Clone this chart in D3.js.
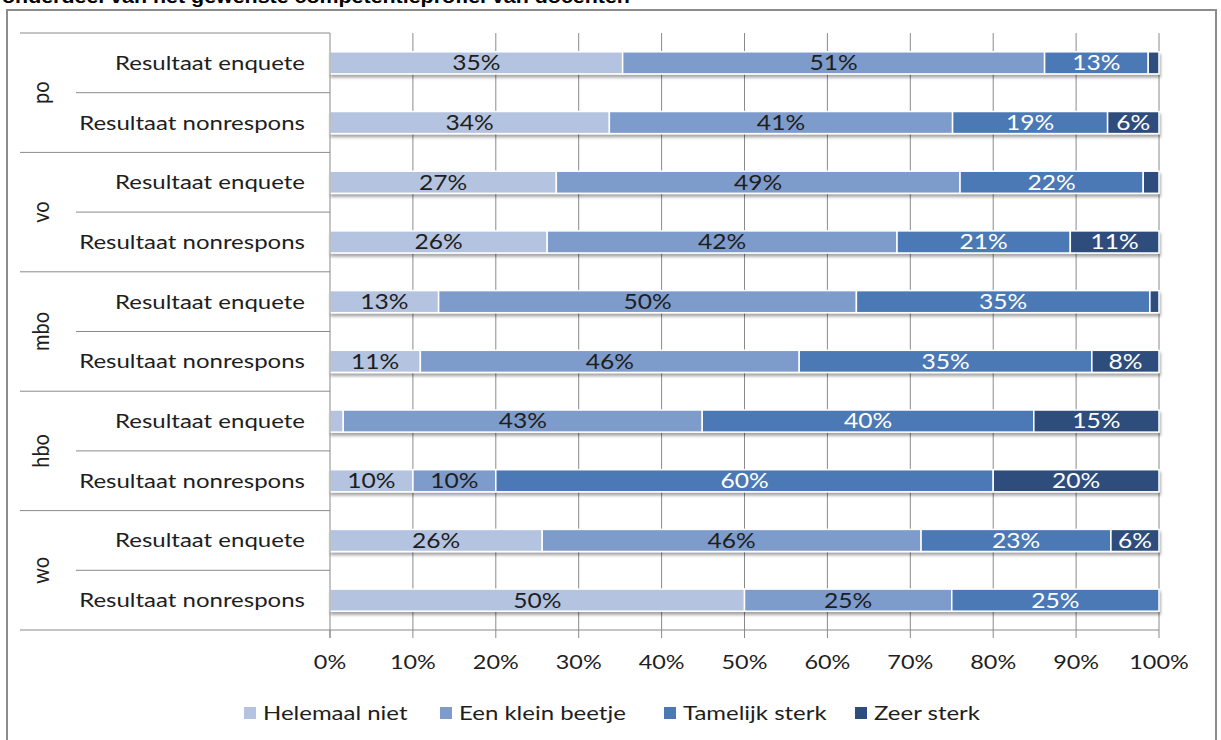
<!DOCTYPE html>
<html><head><meta charset="utf-8">
<script src="https://cdn.jsdelivr.net/npm/d3@7"></script>
<style>
html,body{margin:0;padding:0;background:#fff;}
svg text{font-family:Lato,"Open Sans",sans-serif;}
</style></head>
<body><svg id="c" width="1221" height="740"></svg>
<script>
const title = "onderdeel van het gewenste competentieprofiel van docenten";
const groups = ["po","vo","mbo","hbo","wo"];
const rowTypes = ["Resultaat enquete","Resultaat nonrespons"];
const seriesNames = ["Helemaal niet","Een klein beetje","Tamelijk sterk","Zeer sterk"];
const colors = ["#b4c3df","#7d9bcb","#4b79b5","#2d4e7d"];
const labelColors = ["#1e1e1e","#1e1e1e","#fff","#fff"];
const helemaalNiet  = [35.3, 33.7, 27.3, 26.2, 13.1, 10.9,  1.6, 10, 25.6, 50];
const kleinBeetje   = [50.9, 41.4, 48.7, 42.2, 50.4, 45.7, 43.3, 10, 45.7, 25];
const tamelijkSterk = [12.5, 18.7, 22.1, 20.9, 35.4, 35.3, 40.0, 60, 22.9, 25];
const zeerSterk     = [ 1.3,  6.2,  1.9, 10.7,  1.1,  8.1, 15.1, 20,  5.8,  0];
const tickValues = [0,10,20,30,40,50,60,70,80,90,100];

const series = [helemaalNiet, kleinBeetje, tamelijkSterk, zeerSterk];
const rows = [];
groups.forEach((g,gi)=>rowTypes.forEach((r,ri)=>rows.push({g, r, i: gi*2+ri})));

const SX = 1.2; // horizontal stretch of the reference's text
const svg = d3.select("#c");
const L = 330, R = 1159, T = 33, B = 630;
const x = d3.scaleLinear().domain([0,100]).range([L,R]);
const y = d3.scaleBand().domain(rows.map(d=>d.i)).range([T,B]).paddingInner(0.63).paddingOuter(0.315);
const yRow = d3.scaleBand().domain(rows.map(d=>d.i)).range([T,B]);

// cropped title
svg.append("text").attr("transform","translate(2,3) scale(1.19,1)")
  .style("font-family","'Liberation Sans',Arial,sans-serif")
  .attr("font-weight","bold").attr("font-size",18).attr("fill","#000").text(title);

// frame
svg.append("rect").attr("x",7).attr("y",10).attr("width",1209).attr("height",740)
  .attr("fill","none").attr("stroke","#8c8c8c").attr("stroke-width",2);

// gridlines
svg.append("g").selectAll("line").data(tickValues.slice(1)).join("line")
  .attr("x1",d=>x(d)).attr("x2",d=>x(d)).attr("y1",T).attr("y2",B)
  .attr("stroke","#8a8a8a").attr("stroke-width",1);

// shadow filter
const defs = svg.append("defs");
const f = defs.append("filter").attr("id","sh").attr("x","-5%").attr("y","-20%").attr("width","110%").attr("height","160%");
f.append("feGaussianBlur").attr("in","SourceAlpha").attr("stdDeviation",1.6);
f.append("feOffset").attr("dx",1).attr("dy",3).attr("result","ob");
f.append("feComponentTransfer").append("feFuncA").attr("type","linear").attr("slope",0.35);
const m = f.append("feMerge"); m.append("feMergeNode"); m.append("feMergeNode").attr("in","SourceGraphic");

// stacked bars
const segs = [];
rows.forEach(r=>{
  let acc = 0;
  series.forEach((s,si)=>{
    const v = s[r.i];
    segs.push({row:r.i, si, x0:acc, x1:acc+v, v});
    acc += v;
  });
});
const barG = svg.append("g").attr("filter","url(#sh)");
barG.selectAll("rect").data(segs.filter(d=>d.v>0)).join("rect")
  .attr("x",d=>x(d.x0)).attr("width",d=>x(d.x1)-x(d.x0))
  .attr("y",d=>y(d.row)).attr("height",y.bandwidth())
  .attr("fill",d=>colors[d.si]).attr("stroke","#fff").attr("stroke-width",1.5);

svg.append("g").selectAll("text").data(segs.filter(d=>d.v>=3)).join("text")
  .attr("transform",d=>`translate(${x((d.x0+d.x1)/2)},${y(d.row)+y.bandwidth()/2}) scale(${SX},1)`)
  .attr("dy","0.36em").attr("text-anchor","middle").attr("font-size",20.5)
  .attr("fill",d=>labelColors[d.si]).text(d=>Math.round(d.v)+"%");

// axis line and ticks
svg.append("line").attr("x1",L).attr("x2",L).attr("y1",T).attr("y2",B+8).attr("stroke","#8a8a8a");
svg.append("line").attr("x1",L).attr("x2",R).attr("y1",B).attr("y2",B).attr("stroke","#8a8a8a");
svg.append("g").selectAll("line").data(tickValues).join("line")
  .attr("x1",d=>x(d)).attr("x2",d=>x(d)).attr("y1",B).attr("y2",B+8).attr("stroke","#8a8a8a");
svg.append("g").selectAll("text").data(tickValues).join("text")
  .attr("transform",d=>`translate(${x(d)},662) scale(${SX},1)`)
  .attr("dy","0.35em").attr("text-anchor","middle")
  .attr("font-size",19.5).attr("fill","#1e1e1e").text(d=>d+"%");

// category separators
const sepG = svg.append("g");
rows.forEach(r=>{
  const yt = yRow(r.i);
  sepG.append("line").attr("x1", r.i%2===0 ? 20 : 76).attr("x2",L).attr("y1",yt).attr("y2",yt).attr("stroke","#8a8a8a");
});
sepG.append("line").attr("x1",20).attr("x2",L).attr("y1",B).attr("y2",B).attr("stroke","#8a8a8a");

// row labels
svg.append("g").selectAll("text").data(rows).join("text")
  .attr("transform",d=>`translate(305,${yRow(d.i)+yRow.bandwidth()/2}) scale(${SX},1)`)
  .attr("dy","0.35em")
  .attr("text-anchor","end").attr("font-size",20).attr("fill","#1e1e1e").text(d=>d.r);

// group labels
svg.append("g").selectAll("text").data(groups).join("text")
  .attr("transform",(g,gi)=>`translate(41,${yRow(gi*2)+yRow.bandwidth()}) rotate(-90) scale(1,${SX})`)
  .attr("dy","0.35em").attr("text-anchor","middle").attr("font-size",20).attr("fill","#1e1e1e").text(d=>d);

// legend
const legX = [244, 440, 664, 855];
const lg = svg.append("g").selectAll("g").data(seriesNames).join("g")
  .attr("transform",(d,i)=>`translate(${legX[i]},713)`);
lg.append("rect").attr("x",0).attr("y",-6).attr("width",12).attr("height",12).attr("fill",(d,i)=>colors[i]);
lg.append("text").attr("transform",`translate(19,0) scale(1.23,1)`).attr("dy","0.35em")
  .attr("font-size",19.5).attr("fill","#1e1e1e").text(d=>d);
</script></body></html>
